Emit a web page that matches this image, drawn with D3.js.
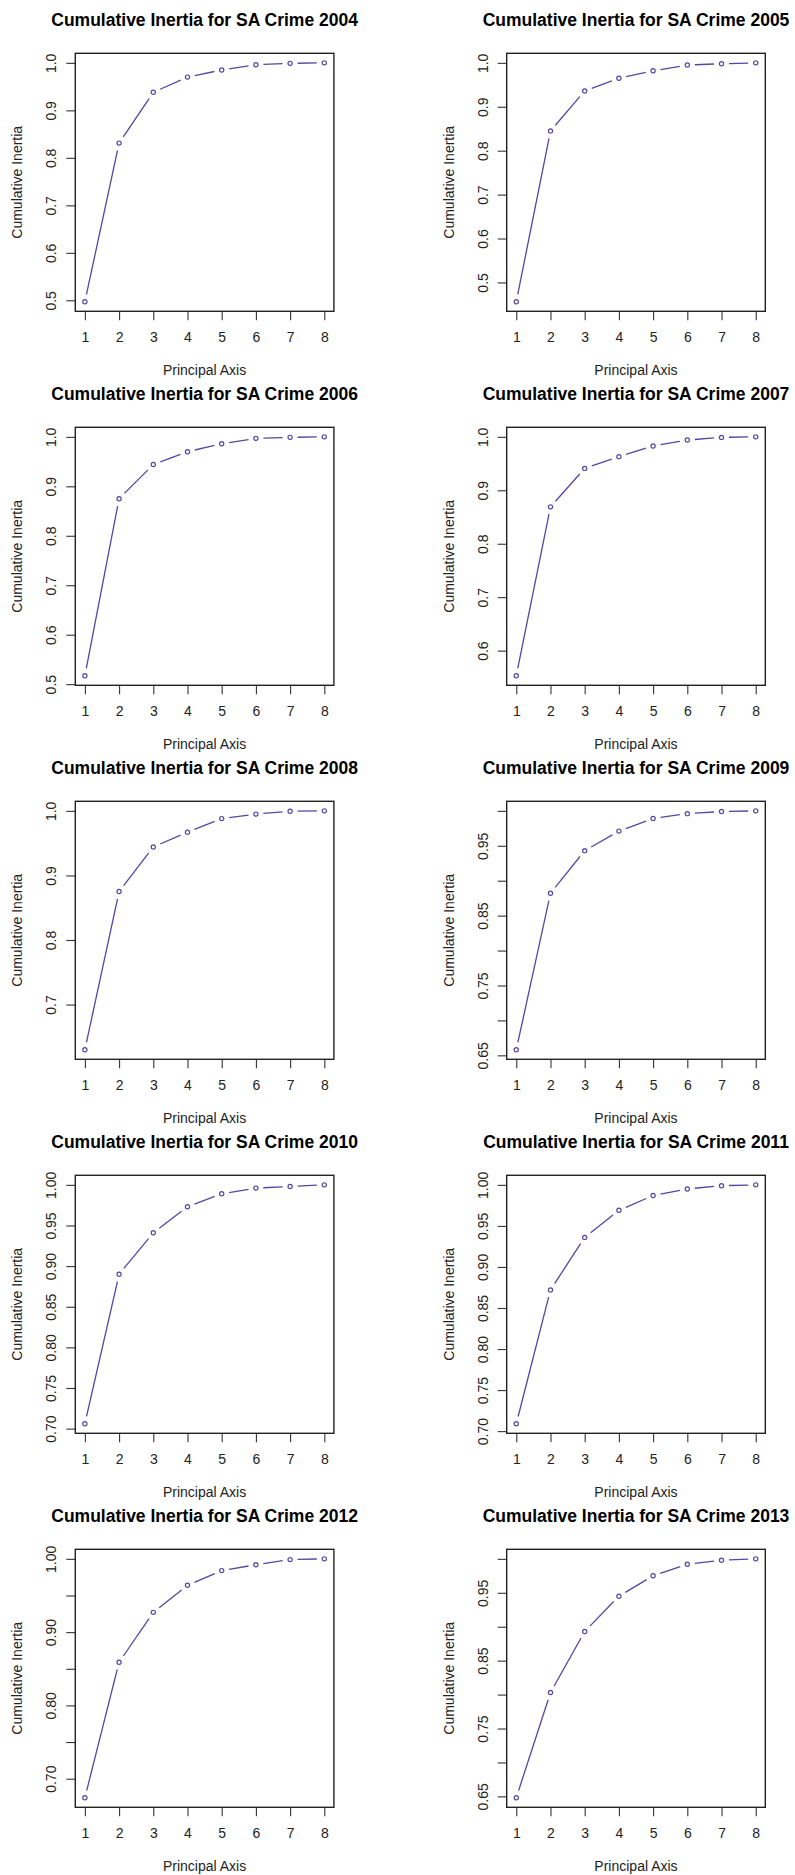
<!DOCTYPE html>
<html>
<head>
<meta charset="utf-8">
<script src="https://cdn.jsdelivr.net/npm/d3@7/dist/d3.min.js"></script>
<style>
  html, body { margin: 0; padding: 0; background: #fff; }
  svg { display: block; font-family: "Liberation Sans", Arial, Helvetica, sans-serif; }
</style>
</head>
<body>
<svg id="chart" width="795" height="1875"></svg>
<script>
// Principal axes (x categories)
const axes = [1, 2, 3, 4, 5, 6, 7, 8];
const years = [2004, 2005, 2006, 2007, 2008, 2009, 2010, 2011, 2012, 2013];

// Cumulative inertia per year
const inertia2004 = [0.497, 0.831, 0.938, 0.970, 0.985, 0.996, 0.999, 1.000];
const inertia2005 = [0.456, 0.845, 0.936, 0.965, 0.982, 0.995, 0.998, 1.000];
const inertia2006 = [0.517, 0.875, 0.944, 0.970, 0.986, 0.997, 0.999, 1.000];
const inertia2007 = [0.553, 0.869, 0.941, 0.963, 0.983, 0.994, 0.999, 1.000];
const inertia2008 = [0.630, 0.875, 0.944, 0.967, 0.988, 0.995, 0.9995, 1.000];
const inertia2009 = [0.658, 0.882, 0.943, 0.971, 0.989, 0.996, 0.999, 1.000];
const inertia2010 = [0.706, 0.890, 0.941, 0.973, 0.989, 0.996, 0.998, 1.000];
const inertia2011 = [0.709, 0.872, 0.936, 0.969, 0.987, 0.995, 0.999, 1.000];
const inertia2012 = [0.674, 0.859, 0.927, 0.964, 0.984, 0.992, 0.999, 1.000];
const inertia2013 = [0.648, 0.803, 0.893, 0.945, 0.975, 0.992, 0.998, 1.000];

// Y tick positions and their labels ("" = tick without label)
const ticksTenths = [0.5, 0.6, 0.7, 0.8, 0.9, 1.0];
const labelsTenths = ["0.5", "0.6", "0.7", "0.8", "0.9", "1.0"];
const ticks2007 = [0.6, 0.7, 0.8, 0.9, 1.0];
const labels2007 = ["0.6", "0.7", "0.8", "0.9", "1.0"];
const ticks2008 = [0.7, 0.8, 0.9, 1.0];
const labels2008 = ["0.7", "0.8", "0.9", "1.0"];
const ticksFrom065 = [0.65, 0.70, 0.75, 0.80, 0.85, 0.90, 0.95, 1.00];
const labelsFrom065 = ["0.65", "", "0.75", "", "0.85", "", "0.95", ""];
const ticksFrom070 = [0.70, 0.75, 0.80, 0.85, 0.90, 0.95, 1.00];
const labelsFrom070All = ["0.70", "0.75", "0.80", "0.85", "0.90", "0.95", "1.00"];
const labelsFrom070Alt = ["0.70", "", "0.80", "", "0.90", "", "1.00"];

const panels = [
  { year: years[0], values: inertia2004, ticks: ticksTenths, labels: labelsTenths },
  { year: years[1], values: inertia2005, ticks: ticksTenths, labels: labelsTenths },
  { year: years[2], values: inertia2006, ticks: ticksTenths, labels: labelsTenths },
  { year: years[3], values: inertia2007, ticks: ticks2007, labels: labels2007 },
  { year: years[4], values: inertia2008, ticks: ticks2008, labels: labels2008 },
  { year: years[5], values: inertia2009, ticks: ticksFrom065, labels: labelsFrom065 },
  { year: years[6], values: inertia2010, ticks: ticksFrom070, labels: labelsFrom070All },
  { year: years[7], values: inertia2011, ticks: ticksFrom070, labels: labelsFrom070All },
  { year: years[8], values: inertia2012, ticks: ticksFrom070, labels: labelsFrom070Alt },
  { year: years[9], values: inertia2013, ticks: ticksFrom065, labels: labelsFrom065 }
];

const svg = d3.select("#chart");
const lineColor = "#5247a3";
const boxW = 258.6, boxH = 258;
const colLeft = [75.3, 506.7];
const rowTop0 = 53.3, rowPitch = 374;
const tickLen = 9;
const gap = 7.5; // space left between a segment and its points

// R-style 4% range padding
function padded(ext) {
  const d = (ext[1] - ext[0]) * 0.04;
  return [ext[0] - d, ext[1] + d];
}

panels.forEach((p, i) => {
  const left = colLeft[i % 2];
  const top = rowTop0 + Math.floor(i / 2) * rowPitch;
  const g = svg.append("g").attr("transform", `translate(${left},${top})`);

  const x = d3.scaleLinear().domain(padded(d3.extent(axes))).range([0, boxW]);
  const y = d3.scaleLinear().domain(padded(d3.extent(p.values))).range([boxH, 0]);

  // title
  g.append("text")
    .attr("x", boxW / 2).attr("y", -27.6)
    .attr("text-anchor", "middle")
    .attr("font-size", 17.5).attr("font-weight", "bold")
    .attr("fill", "#000")
    .text(`Cumulative Inertia for SA Crime ${p.year}`);

  // x axis
  const xAxis = d3.axisBottom(x).tickValues(axes).tickSize(tickLen).tickPadding(11.8).tickFormat(d3.format("d"));
  const gx = g.append("g").attr("transform", `translate(0,${boxH})`).call(xAxis);
  gx.select(".domain").remove();
  gx.selectAll(".tick line").attr("stroke", "#333").attr("stroke-width", 1.1);
  gx.selectAll(".tick text").attr("font-size", 14).attr("fill", "#222")
    .attr("font-family", "'Liberation Sans', Arial, sans-serif");

  // y axis, labels rotated parallel to the axis
  const yAxis = d3.axisLeft(y).tickValues(p.ticks).tickSize(tickLen)
    .tickFormat((d, k) => p.labels[k]);
  const gy = g.append("g").call(yAxis);
  gy.select(".domain").remove();
  gy.selectAll(".tick line").attr("stroke", "#333").attr("stroke-width", 1.1);
  gy.selectAll(".tick text")
    .attr("font-size", 14).attr("fill", "#222")
    .attr("font-family", "'Liberation Sans', Arial, sans-serif")
    .attr("x", null).attr("dy", null)
    .attr("text-anchor", "middle")
    .attr("transform", "translate(-19,0) rotate(-90)");

  // axis titles
  g.append("text")
    .attr("x", boxW / 2).attr("y", boxH + 63.5)
    .attr("text-anchor", "middle").attr("font-size", 14).attr("fill", "#222")
    .text("Principal Axis");
  g.append("text")
    .attr("transform", `translate(-53,${boxH / 2}) rotate(-90)`)
    .attr("text-anchor", "middle").attr("font-size", 14).attr("fill", "#222")
    .text("Cumulative Inertia");

  // frame
  g.append("rect")
    .attr("x", 0).attr("y", 0).attr("width", boxW).attr("height", boxH)
    .attr("fill", "none").attr("stroke", "#222").attr("stroke-width", 1.4);

  // line segments with gaps around the points
  const pts = axes.map((a, k) => [x(a), y(p.values[k])]);
  const segs = d3.pairs(pts).map(([a, b]) => {
    const dx = b[0] - a[0], dy = b[1] - a[1];
    const len = Math.hypot(dx, dy);
    if (len <= 2 * gap) return null;
    const ux = dx / len, uy = dy / len;
    return [[a[0] + ux * gap, a[1] + uy * gap], [b[0] - ux * gap, b[1] - uy * gap]];
  }).filter(Boolean);
  g.append("g").selectAll("path").data(segs).join("path")
    .attr("d", d3.line())
    .attr("fill", "none").attr("stroke", lineColor).attr("stroke-width", 1.3);

  // points
  g.append("g").selectAll("circle").data(p.values).join("circle")
    .attr("cx", (d, k) => x(axes[k]))
    .attr("cy", d => y(d))
    .attr("r", 2.1)
    .attr("fill", "none").attr("stroke", lineColor).attr("stroke-width", 1.2);
});
</script>
</body>
</html>
